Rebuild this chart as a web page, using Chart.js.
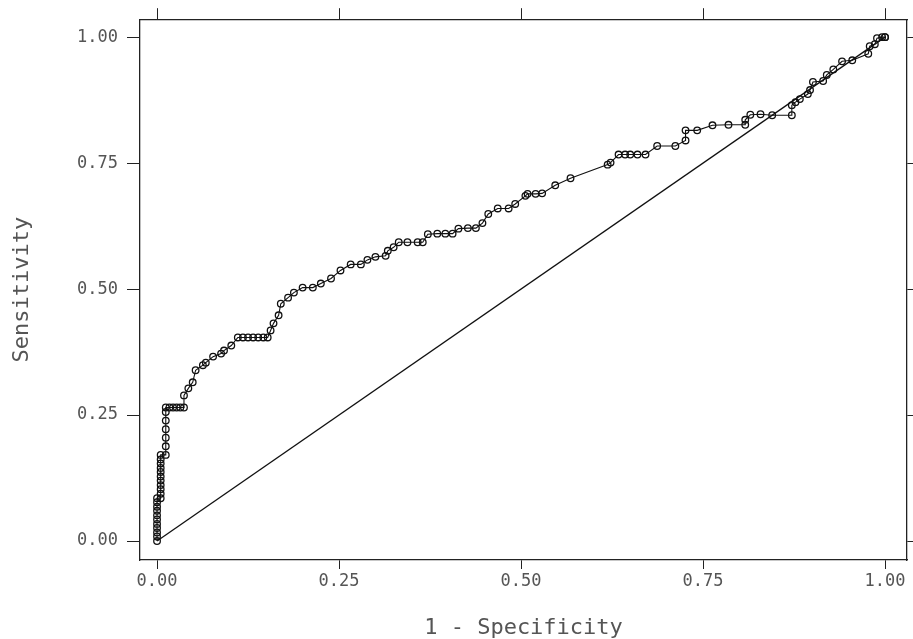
<!DOCTYPE html>
<html>
<head>
<meta charset="utf-8">
<script src="https://cdn.jsdelivr.net/npm/chart.js@4/dist/chart.umd.min.js"></script>
<style>
  html, body { margin: 0; padding: 0; background: #fff; }
  canvas { display: block; }
</style>
</head>
<body>
<canvas id="chart" width="913" height="639"></canvas>
<script>
// ROC curve points (1 - specificity, sensitivity)
// (right-hand part read against the diagonal, the scan is slightly tilted)
const fpr = [
    0, 0, 0, 0, 0, 0, 0, 0, 0, 0, 0,
    0.005, 0.005, 0.005, 0.005, 0.005, 0.005, 0.005, 0.005, 0.005, 0.005, 0.005,
    0.012, 0.012, 0.012, 0.012, 0.012, 0.012, 0.012,
    0.017, 0.022, 0.027, 0.032, 0.037,
    0.037, 0.043, 0.049, 0.053, 0.063, 0.067, 0.077, 0.088, 0.092, 0.102, 0.111,
    0.118, 0.125, 0.132, 0.139, 0.146, 0.152,
    0.156, 0.160, 0.167, 0.170, 0.180, 0.188, 0.200, 0.214, 0.225, 0.239, 0.252,
    0.266, 0.280, 0.289, 0.300, 0.314, 0.317, 0.325, 0.332, 0.344, 0.358, 0.365,
    0.372, 0.385, 0.396, 0.406, 0.414, 0.427, 0.438, 0.447, 0.455, 0.468, 0.483,
    0.492, 0.506, 0.509, 0.520, 0.529, 0.547, 0.568,
    0.619, 0.623, 0.634, 0.643, 0.650, 0.660, 0.671, 0.687, 0.712, 0.726, 0.726,
    0.742, 0.763, 0.785, 0.808, 0.808, 0.815, 0.829, 0.845, 0.872,
    0.872, 0.877, 0.883, 0.894, 0.897, 0.901, 0.915, 0.920, 0.929, 0.941, 0.955,
    0.977, 0.979, 0.986, 0.989, 0.996, 1.0, 1.0
];
const tpr = [
    0, 0.009, 0.017, 0.026, 0.034, 0.043, 0.051, 0.060, 0.068, 0.077, 0.085,
    0.085, 0.094, 0.103, 0.111, 0.120, 0.128, 0.137, 0.145, 0.154, 0.162, 0.171,
    0.171, 0.188, 0.205, 0.222, 0.239, 0.256, 0.265,
    0.265, 0.265, 0.265, 0.265, 0.265,
    0.289, 0.303, 0.315, 0.339, 0.349, 0.354, 0.366, 0.372, 0.378, 0.388, 0.404,
    0.404, 0.404, 0.404, 0.404, 0.404, 0.404,
    0.418, 0.432, 0.448, 0.471, 0.483, 0.493, 0.503, 0.503, 0.511, 0.521, 0.537,
    0.549, 0.549, 0.558, 0.564, 0.566, 0.576, 0.583, 0.593, 0.593, 0.593, 0.593,
    0.609, 0.610, 0.610, 0.610, 0.620, 0.621, 0.621, 0.631, 0.649, 0.660, 0.660,
    0.669, 0.685, 0.689, 0.689, 0.690, 0.706, 0.720,
    0.747, 0.751, 0.767, 0.767, 0.767, 0.767, 0.767, 0.784, 0.784, 0.795, 0.815,
    0.815, 0.825, 0.826, 0.826, 0.836, 0.846, 0.847, 0.845, 0.845,
    0.865, 0.871, 0.877, 0.887, 0.895, 0.911, 0.913, 0.925, 0.936, 0.952, 0.954,
    0.967, 0.982, 0.986, 0.998, 1.0, 1.0, 1.0
];
// reference diagonal
const diagX = [0, 1];
const diagY = [0, 1];

const tickVals = [0, 0.25, 0.5, 0.75, 1];
const xTitle = '1 - Specificity';
const yTitle = 'Sensitivity';

const ink = '#222';
const labelColor = '#555';
const monoFont = "'DejaVu Sans Mono', 'Liberation Mono', monospace";

const xRange = { min: -0.0234, max: 1.0302 };
const yRange = { min: -0.0376, max: 1.0356 };

const setTicks = s => { s.ticks = tickVals.map(v => ({ value: v })); };

function axis(extra) {
    return Object.assign({
        type: 'linear',
        afterBuildTicks: setTicks,
        grid: { drawOnChartArea: false, drawTicks: true, tickLength: 10, color: ink, lineWidth: 1 },
        border: { display: true, color: ink, width: 1.3 },
        ticks: { display: false }
    }, extra);
}

new Chart(document.getElementById('chart').getContext('2d'), {
    type: 'scatter',
    data: {
        datasets: [
            {
                data: fpr.map((x, i) => ({ x: x, y: tpr[i] })),
                showLine: true,
                borderColor: '#111',
                borderWidth: 1.1,
                pointRadius: 3.3,
                pointBorderWidth: 1.3,
                pointBorderColor: '#111',
                pointBackgroundColor: 'rgba(255,255,255,0)',
                xAxisID: 'x',
                yAxisID: 'y'
            },
            {
                data: diagX.map((x, i) => ({ x: x, y: diagY[i] })),
                showLine: true,
                borderColor: '#111',
                borderWidth: 1.3,
                pointRadius: 0,
                xAxisID: 'x',
                yAxisID: 'y'
            }
        ]
    },
    options: {
        responsive: false,
        animation: false,
        layout: { padding: 0 },
        plugins: { legend: { display: false }, tooltip: { enabled: false } },
        scales: {
            x: axis(Object.assign({}, xRange, {
                position: 'bottom',
                grid: { drawOnChartArea: false, drawTicks: true, tickLength: 9, color: ink },
                ticks: {
                    display: true, padding: 2, color: labelColor,
                    font: { family: monoFont, size: 17 },
                    callback: v => v.toFixed(2)
                },
                title: {
                    display: true, text: xTitle, color: labelColor,
                    font: { family: monoFont, size: 22, lineHeight: 1 },
                    padding: { top: 0, bottom: 0 }
                },
                afterFit: s => { s.height = 79; }
            })),
            x2: axis(Object.assign({}, xRange, {
                position: 'top',
                grid: { drawOnChartArea: false, drawTicks: true, tickLength: 11, color: ink },
                afterFit: s => { s.height = 18; }
            })),
            y: axis(Object.assign({}, yRange, {
                position: 'left',
                grid: { drawOnChartArea: false, drawTicks: true, tickLength: 13, color: ink },
                ticks: {
                    display: true, padding: 9, color: labelColor,
                    font: { family: monoFont, size: 17 },
                    callback: v => v.toFixed(2)
                },
                title: {
                    display: true, text: yTitle, color: labelColor,
                    font: { family: monoFont, size: 22, lineHeight: 1 },
                    padding: { top: 11, bottom: 0 }
                },
                afterFit: s => { s.width = 140; }
            })),
            y2: axis(Object.assign({}, yRange, {
                position: 'right',
                grid: { drawOnChartArea: false, drawTicks: true, tickLength: 6, color: ink },
                afterFit: s => { s.width = 6; }
            }))
        }
    }
});
</script>
</body>
</html>
